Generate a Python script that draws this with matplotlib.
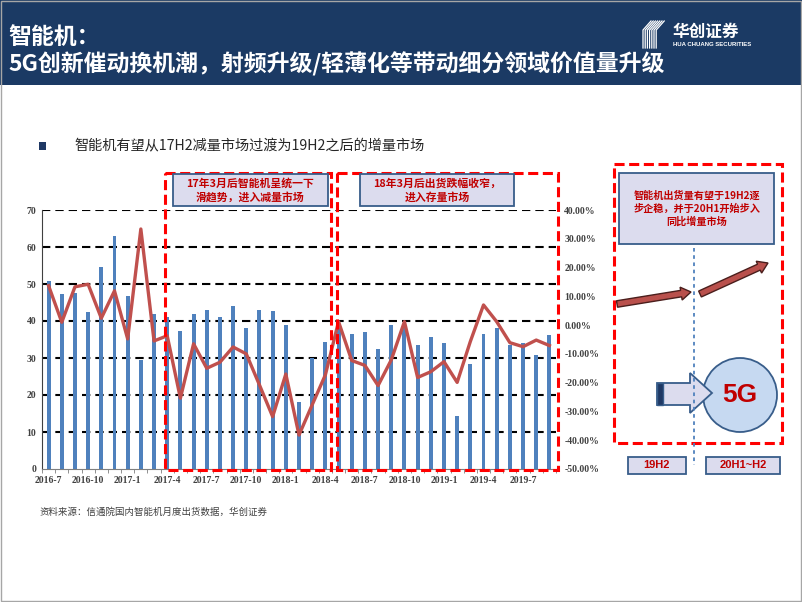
import matplotlib
matplotlib.use("Agg")
from matplotlib import pyplot as plt
from matplotlib.patches import Rectangle, Circle, Polygon, FancyArrow
import numpy as np

plt.rcParams['font.family'] = ['Noto Sans CJK SC', 'DejaVu Sans']

W, H = 802, 602

# monthly shipments of smartphones in China (millions) and yoy growth (%)
months = ['%d-%d' % (2016 + (6 + i) // 12, (6 + i) % 12 + 1) for i in range(39)]
shipments = [50.8, 47.4, 47.7, 42.3, 54.5, 63.0, 46.8, 29.5, 41.8,
             41.0, 37.3, 41.8, 42.9, 41.1, 44.1, 38.2, 43.1, 42.6,
             39.0, 18.0, 30.1, 34.2, 38.5, 36.5, 36.9, 32.5, 38.9,
             38.4, 33.5, 35.6, 34.0, 14.4, 28.3, 36.5, 38.2, 33.5,
             34.1, 30.8, 36.2]
yoy = [13.7, 1.0, 13.3, 14.2, 2.4, 11.9, -4.8, 33.4, -5.5,
       -3.7, -25.4, -6.5, -15.0, -12.9, -7.6, -10.0, -20.8, -31.8,
       -17.0, -38.2, -27.7, -17.3, 1.2, -12.3, -14.0, -21.0, -12.1,
       1.2, -18.2, -16.2, -12.7, -19.9, -5.7, 7.0, 1.2, -6.1,
       -7.5, -5.2, -7.1]

left_ticks = list(range(0, 80, 10))
right_ticks = list(range(-50, 50, 10))

fig = plt.figure(figsize=(W / 100, H / 100), dpi=100)


def px_axes(x0, y0, x1, y1, **kw):
    return fig.add_axes([x0 / W, 1 - y1 / H, (x1 - x0) / W, (y1 - y0) / H], **kw)


# ---- chart ----
ax = px_axes(42, 210, 556, 469)
x = np.arange(len(months))
ax.bar(x, shipments, width=0.3, color='#4F81BD', zorder=2)
ax.set_xlim(-0.5, len(months) - 0.5)
ax.set_ylim(0, 70)
ax.set_yticks(left_ticks)
ax.set_axisbelow(True)
for v in left_ticks[1:]:
    ax.axhline(v, color='black', lw=1.5, dashes=(4, 2.4), zorder=1)
ax.set_xticks(x[::3])
ax.set_xticklabels(months[::3])
ax.set_xticks(np.arange(-0.5, len(months), 1), minor=True)
ax.tick_params(axis='x', which='major', length=0, pad=5)
ax.tick_params(axis='x', which='minor', length=3, color='#7F7F7F', direction='out')
ax.tick_params(axis='y', length=0, pad=4)
for lab in ax.get_xticklabels() + ax.get_yticklabels():
    lab.set_family('Liberation Serif')
    lab.set_fontweight('bold')
    lab.set_fontsize(7)
    lab.set_color('#404040')
for s in ['top', 'right']:
    ax.spines[s].set_visible(False)
ax.spines['left'].set_color('#404040')
ax.spines['bottom'].set_color('#7F7F7F')

ax2 = ax.twinx()
ax2.plot(x, yoy, color='#C0504D', lw=2.4, zorder=3)
ax2.set_ylim(-50, 40)
ax2.set_yticks(right_ticks)
ax2.set_yticklabels(['%.2f%%' % v for v in right_ticks])
ax2.tick_params(axis='y', length=0, pad=6)
for lab in ax2.get_yticklabels():
    lab.set_family('Liberation Serif')
    lab.set_fontweight('bold')
    lab.set_fontsize(7)
    lab.set_color('#404040')
for s in ax2.spines.values():
    s.set_visible(False)

# ---- slide decorations in pixel coords ----
ov = fig.add_axes([0, 0, 1, 1], zorder=10)
ov.set_xlim(0, W)
ov.set_ylim(H, 0)
ov.axis('off')
ov.patch.set_visible(False)

navy = '#1B3A64'
ov.add_patch(Rectangle((0, 0), W, 85, color=navy, lw=0))
ov.add_patch(Rectangle((0.5, 0.5), W - 1.5, H - 1.5, fill=False, ec='#A6A6A6', lw=1))
ov.text(8, 37, '智能机：', color='white', fontsize=16.5, fontweight='bold', va='center')
ov.text(8, 63, '5G创新催动换机潮，射频升级/轻薄化等带动细分领域价值量升级', color='white',
        fontsize=16.5, fontweight='bold', va='center')

# logo
for i in range(7):
    xs = 643 + i * 2.2
    ov.plot([xs, xs, xs + 8], [48, 30, 21], color='white', lw=0.9)
ov.text(673, 32, '华创证券', color='white', fontsize=12, fontweight='bold', va='center')
ov.text(673, 44.5, 'HUA CHUANG SECURITIES', color='white', fontsize=4.3, fontweight='bold',
        va='center', family='Liberation Sans')

# bullet
ov.add_patch(Rectangle((39, 142), 7, 8, color='#1F3864', lw=0))
ov.text(74, 146, '智能机有望从17H2减量市场过渡为19H2之后的增量市场', color='#262626',
        fontsize=10.2, va='center')

ov.text(40, 512, '资料来源：信通院国内智能机月度出货数据，华创证券', color='#404040',
        fontsize=6.8, va='center')

red = '#FF0000'
dash = (0, (3.3, 1.5))
for (x0, y0, x1, y1) in [(165, 173, 331, 470), (337, 173, 558, 470), (614, 164, 782, 443)]:
    ov.add_patch(Rectangle((x0, y0), x1 - x0, y1 - y0, fill=False, ec=red, lw=2.2,
                           linestyle=dash))

box_fc = '#DCDCEE'
box_ec = '#385D8A'
text_red = '#C00000'
notes = [((173, 174, 328, 206), '17年3月后智能机呈统一下\n滑趋势，进入减量市场', 7.8),
         ((360, 174, 514, 206), '18年3月后出货跌幅收窄，\n进入存量市场', 7.8),
         ((619, 173, 774, 244), '智能机出货量有望于19H2逐\n步企稳，并于20H1开始步入\n同比增量市场', 7.3)]
for (x0, y0, x1, y1), txt, fs in notes:
    ov.add_patch(Rectangle((x0, y0), x1 - x0, y1 - y0, fc=box_fc, ec=box_ec, lw=1.3))
    ov.text((x0 + x1) / 2, (y0 + y1) / 2, txt, color=text_red, fontsize=fs,
            fontweight='bold', ha='center', va='center', linespacing=1.35)

ov.plot([694, 694], [248, 465], color='#4F81BD', lw=1.3, linestyle=(0, (2, 2)))

for (x0, x1), txt in [((628, 686), '19H2'), ((706, 780), '20H1~H2')]:
    ov.add_patch(Rectangle((x0, 457), x1 - x0, 17, fc=box_fc, ec=box_ec, lw=1.3))
    ov.text((x0 + x1) / 2, 465.5, txt, color=text_red, fontsize=8, fontweight='bold',
            ha='center', va='center', family='Liberation Sans')

for (tx, ty), (hx, hy) in [((617, 304), (691, 292)), ((700, 294), (768, 263))]:
    ov.add_patch(FancyArrow(tx, ty, hx - tx, hy - ty, width=6.5, head_width=13,
                            head_length=10, length_includes_head=True,
                            fc='#B9504C', ec='#4A1E1C', lw=1.0))

ov.add_patch(Circle((740, 395), 37, fc='#C6D9F1', ec=box_ec, lw=1.3))
ov.text(740, 395, '5G', color=text_red, fontsize=19, fontweight='bold', ha='center',
        va='center', family='Liberation Sans')
ov.add_patch(Polygon([(657, 383), (690, 383), (690, 373), (712, 393), (690, 413),
                      (690, 405), (657, 405)], closed=True, fc=box_fc, ec=box_ec, lw=1.3))
ov.add_patch(Rectangle((657, 383), 6, 22, fc='#1F3864', ec=box_ec, lw=1.0))

fig.savefig('out.png', dpi=100)
